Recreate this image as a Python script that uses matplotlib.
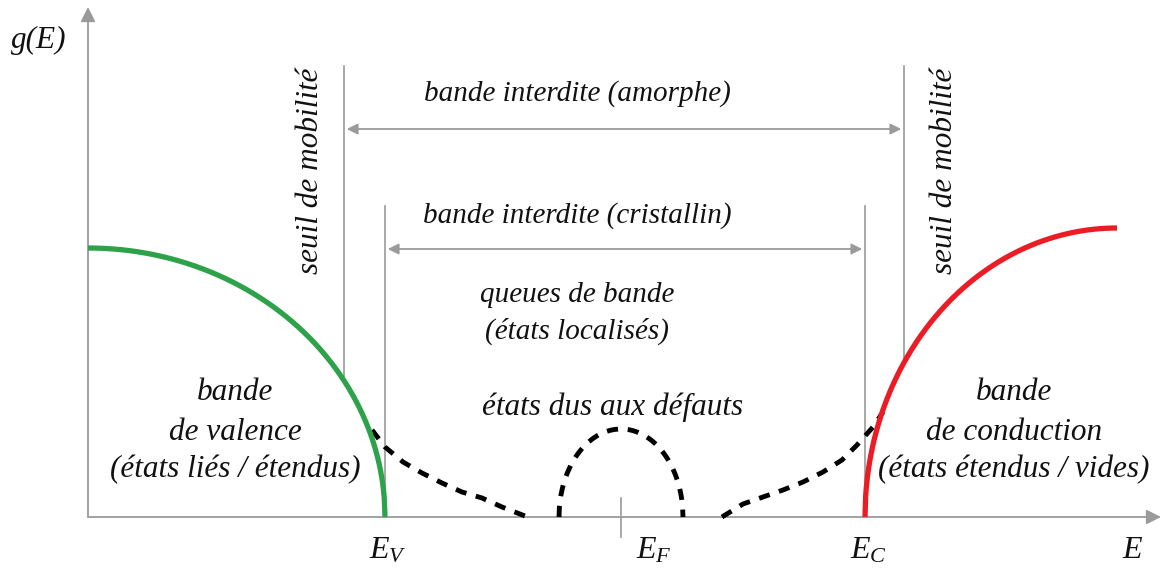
import numpy as np
import matplotlib
matplotlib.use("Agg")
import matplotlib.pyplot as plt

plt.rcParams['mathtext.fontset'] = 'custom'
plt.rcParams['mathtext.it'] = 'Liberation Serif:italic'
plt.rcParams['mathtext.rm'] = 'Liberation Serif:italic'

# ---- data (energy in arbitrary units, origin at the g-axis) ----
E_V = 297            # valence band edge
E_F = 533            # Fermi level
E_C = 777            # conduction band edge
E_mob_v = 256        # mobility edge (valence side)
E_mob_c = 816        # mobility edge (conduction side)
E_max = 1029         # end of conduction band curve
g_valence_max = 269  # g(E) at E=0 for the valence band
g_conduction_max = 289

# band tails
tail_v_E = [284, 297, 315, 334, 354, 374, 394, 414, 437]
tail_v_g = [87, 70, 55, 44, 34, 25, 19, 10, 1]
tail_c_E = [634, 655, 675, 695, 715, 735, 754, 769, 785, 795]
tail_c_g = [0, 13, 20, 27, 35, 45, 57, 72, 90, 105]

# defect states
defect_center = 533
defect_halfwidth = 62
defect_height = 88

labels_axis = ['$E_V$', '$E_F$', '$E_C$']
label_pos = [300, 566, 781]

GRAY = '#9a9a9a'
FONT = dict(family='Liberation Serif', style='italic', color='#111111')
FS = 21
FS_L = 22.5

fig = plt.figure(figsize=(11.61, 5.70), dpi=100)
ax = fig.add_axes([0, 0, 1, 1])
ax.set_xlim(-88, 1073)
ax.set_ylim(-53, 517)
ax.axis('off')

def valence(E):
    return g_valence_max * np.sqrt(np.clip(1 - (E / E_V) ** 2, 0, None))

def conduction(E):
    return g_conduction_max * np.sqrt(np.clip(1 - ((E_max - E) / (E_max - E_C)) ** 2, 0, None))

# axes with arrows
ax.annotate('', xy=(0, 510), xytext=(0, 0),
            arrowprops=dict(arrowstyle='-|>', color=GRAY, lw=1.3, mutation_scale=22,
                            shrinkA=0, shrinkB=0))
ax.annotate('', xy=(1073, 0), xytext=(0, 0),
            arrowprops=dict(arrowstyle='-|>', color=GRAY, lw=1.3, mutation_scale=22,
                            shrinkA=0, shrinkB=0))

# vertical guide lines
ax.plot([E_mob_v, E_mob_v], [valence(E_mob_v), 451], color=GRAY, lw=1.2)
ax.plot([E_mob_c, E_mob_c], [conduction(E_mob_c), 451], color=GRAY, lw=1.2)
ax.plot([E_V, E_V], [0, 311], color=GRAY, lw=1.2)
ax.plot([E_C, E_C], [0, 311], color=GRAY, lw=1.2)
ax.plot([E_F, E_F], [19, -20], color=GRAY, lw=1.2)

# double arrows
ax.annotate('', xy=(E_mob_c, 388), xytext=(E_mob_v, 388),
            arrowprops=dict(arrowstyle='<|-|>', color=GRAY, lw=1.3, mutation_scale=16,
                            shrinkA=2, shrinkB=2))
ax.annotate('', xy=(E_C, 268), xytext=(E_V, 268),
            arrowprops=dict(arrowstyle='<|-|>', color=GRAY, lw=1.3, mutation_scale=16,
                            shrinkA=2, shrinkB=2))

# bands
Ev = np.linspace(0, E_V, 400)
ax.plot(Ev, valence(Ev), color='#2ea24a', lw=3.8, solid_capstyle='butt', zorder=4)
Ec = np.linspace(E_C, E_max, 400)
ax.plot(Ec, conduction(Ec), color='#ec1c24', lw=3.8, solid_capstyle='butt', zorder=4)

# tails and defects
dash = dict(color='black', lw=3.5, dashes=(2.3, 2.0), zorder=3)
ax.plot(tail_v_E, tail_v_g, **dash)
ax.plot(tail_c_E, tail_c_g, **dash)
Ed = np.linspace(defect_center - defect_halfwidth, defect_center + defect_halfwidth, 300)
gd = defect_height * np.sqrt(np.clip(1 - ((Ed - defect_center) / defect_halfwidth) ** 2, 0, None))
ax.plot(Ed, gd, **dash)

# texts
ax.text(-49, 477, 'g(E)', fontsize=FS_L, ha='center', va='center', **FONT)
ax.text(222, 346, 'seuil de mobilité', fontsize=FS_L, rotation=90, ha='center', va='center', **FONT)
ax.text(857, 346, 'seuil de mobilité', fontsize=FS_L, rotation=90, ha='center', va='center', **FONT)
ax.text(489, 423, 'bande interdite (amorphe)', fontsize=FS, ha='center', va='center', **FONT)
ax.text(489, 301, 'bande interdite (cristallin)', fontsize=FS, ha='center', va='center', **FONT)
ax.text(489, 222, 'queues de bande', fontsize=FS, ha='center', va='center', **FONT)
ax.text(489, 186, '(états localisés)', fontsize=FS, ha='center', va='center', **FONT)
ax.text(525, 110, 'états dus aux défauts', fontsize=FS_L, ha='center', va='center', **FONT)
for txt, g in zip(['bande', 'de valence', '(états liés / étendus)'], [125, 85, 47]):
    ax.text(147, g, txt, fontsize=FS_L, ha='center', va='center', **FONT)
for txt, g in zip(['bande', 'de conduction', '(états étendus / vides)'], [124, 85, 47]):
    ax.text(926, g, txt, fontsize=FS_L, ha='center', va='center', **FONT)
for txt, x in zip(labels_axis, label_pos):
    ax.text(x, -33, txt, fontsize=23, ha='center', va='center', color='#111111')
ax.text(1045, -33, '$E$', fontsize=23, ha='center', va='center', color='#111111')

fig.savefig('out.png', dpi=100)
